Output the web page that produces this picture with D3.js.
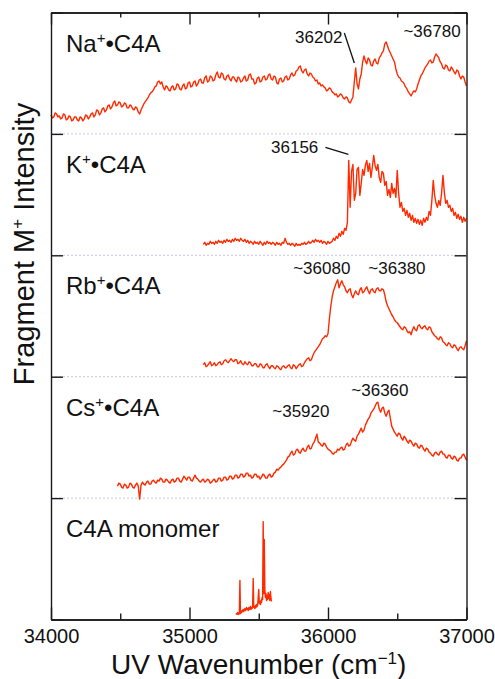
<!DOCTYPE html>
<html>
<head>
<meta charset="utf-8">
<script src="https://cdn.jsdelivr.net/npm/d3@7"></script>
<style>
	body { margin: 0; background: #fff; }
	svg text { font-family: "Liberation Sans", Arial, Helvetica, sans-serif; fill: #111; }
</style>
</head>
<body>
<svg id="chart" width="495" height="679"></svg>
<script>
'use strict';

// panels, top to bottom
var panelIons = ['Na', 'K', 'Rb', 'Cs', null];

// x axis ticks (cm-1)
var majorTicks = [34000, 35000, 36000, 37000];
var minorTicks = [34500, 35500, 36500];

// spectra: first wavenumber, step, intensities (arb. units above panel floor)
var naStart = 34000, naStep = 10;
var naValues = [
	19,16,17,21,20,17,18,15,16,20,
	19,14,15,18,17,13,14,17,17,14,
	13,17,16,13,15,19,18,15,17,20,
	21,17,19,24,23,19,21,25,26,22,
	24,28,29,25,27,31,33,28,29,32,
	31,27,28,31,30,26,26,29,28,25,
	24,27,26,22,20,24,27,30,32,34,
	36,39,41,42,44,47,48,52,53,50,
	52,47,44,48,47,44,43,47,48,44,
	45,50,49,45,44,48,50,45,46,51,
	52,47,48,52,53,48,50,54,55,51,
	51,56,58,52,53,58,57,53,54,59,
	62,57,56,61,60,55,54,58,59,55,
	53,57,57,54,52,57,56,52,53,56,
	58,53,54,59,60,55,55,50,51,56,
	57,52,53,57,58,54,55,59,60,55,
	54,58,57,51,50,55,56,52,53,57,
	58,54,55,59,61,58,59,63,64,67,
	68,63,61,64,65,60,58,61,60,57,
	56,53,54,50,51,48,49,47,46,43,
	44,46,45,42,41,39,40,37,38,40,
	39,36,35,37,36,32,31,34,37,52,
	66,50,45,55,60,72,78,73,70,76,
	74,69,68,73,75,71,70,76,78,81,
	83,90,92,88,84,81,78,75,72,65,
	60,57,56,53,52,50,47,45,42,40,
	38,41,43,42,45,50,54,58,60,63,
	66,68,70,73,74,71,72,77,80,78,
	76,72,70,66,65,69,68,64,63,67,
	65,62,60,64,63,58,55,58,57,52,
	48
];

var kStart = 35100, kStep = 10;
var kValues = [
	11,13,10,12,11,14,12,13,11,14,
	12,15,13,14,12,15,13,16,14,15,
	13,16,14,17,15,16,14,17,15,14,
	16,13,15,12,14,13,11,14,12,13,
	11,14,12,10,13,11,14,12,13,11,
	13,12,10,13,11,12,10,13,12,17,
	13,11,12,10,12,11,9,12,10,11,
	10,12,11,13,11,12,14,12,13,15,
	13,16,14,15,13,15,12,14,13,11,
	14,12,13,14,17,15,19,17,22,19,
	24,21,27,25,33,95,48,84,91,55,
	62,86,88,60,72,86,80,90,95,84,
	92,78,88,100,90,85,91,78,73,84,
	82,70,74,60,66,58,72,62,67,58,
	85,62,48,53,44,47,40,45,38,42,
	35,40,33,37,32,36,31,35,30,37,
	33,38,35,44,40,55,75,60,52,48,
	55,50,62,80,63,52,55,48,50,44,
	47,40,43,37,41,36,39,33,38,34,
	37
];

var rbStart = 35100, rbStep = 10;
var rbValues = [
	12,14,10,11,13,15,11,12,14,11,
	12,14,15,12,13,16,17,15,14,16,
	18,16,15,17,17,13,14,16,13,12,
	15,13,12,15,14,11,11,13,13,10,
	10,13,12,9,9,12,13,10,8,11,
	11,9,8,11,10,8,7,10,11,9,
	9,11,12,9,8,12,11,8,10,12,
	13,10,11,14,16,18,19,16,17,21,
	24,26,28,30,32,35,38,39,41,40,
	43,58,70,80,86,90,94,97,89,93,
	96,92,90,86,84,87,88,82,79,83,
	86,83,82,87,89,84,85,88,90,86,
	83,87,88,85,84,88,89,86,86,88,
	87,82,75,71,68,65,62,60,57,55,
	54,52,50,48,47,50,49,46,44,45,
	42,47,50,47,46,51,52,49,48,50,
	51,48,47,50,49,45,43,41,40,38,
	37,40,39,35,34,32,31,34,33,30,
	29,32,31,28,26,29,30,28,27,31,
	36
];

var csStart = 34480, csStep = 10;
var csValues = [
	12,15,14,11,10,14,13,10,11,15,
	14,11,10,13,15,12,-1,13,16,14,
	13,16,17,14,14,17,18,16,15,18,
	17,20,19,16,16,19,18,16,15,18,
	19,16,17,20,20,17,16,19,22,20,
	18,21,21,18,17,20,23,20,19,17,
	16,18,19,16,17,19,18,15,16,18,
	19,16,17,20,20,17,18,21,21,18,
	19,22,22,19,20,23,23,20,21,24,
	24,21,22,25,25,22,23,20,21,24,
	24,21,22,19,21,24,23,20,20,23,
	24,21,22,25,26,29,28,30,31,33,
	34,36,38,41,42,45,47,43,44,48,
	49,46,45,48,50,47,47,51,53,49,
	50,54,56,60,64,56,55,53,52,55,
	54,51,49,48,47,45,44,46,46,49,
	48,50,51,48,49,53,55,52,53,57,
	60,58,57,62,64,67,70,66,68,73,
	76,79,81,85,87,89,92,95,96,89,
	86,90,91,85,82,86,88,80,72,69,
	66,64,62,65,64,60,58,62,60,57,
	55,58,57,54,52,55,54,51,50,53,
	52,49,47,50,49,46,45,43,42,45,
	46,44,43,46,47,44,44,41,40,43,
	43,40,39,42,41,38,37,40,40,43,
	44,41,38
];

var monoStart = 35336, monoStep = 4;
var monoValues = [
	5,6,5,7,6,5,7,39,6,8,
	7,9,8,10,8,9,11,9,10,12,
	10,11,9,12,10,11,13,10,12,11,
	14,41,12,13,11,14,12,15,13,14,
	22,30,16,18,15,19,17,22,20,98,
	26,80,30,22,26,19,24,20,27,21,
	25,19,28,22,18
];

var spectra = [
	{ panel: 0, start: naStart, step: naStep, values: naValues },
	{ panel: 1, start: kStart, step: kStep, values: kValues },
	{ panel: 2, start: rbStart, step: rbStep, values: rbValues },
	{ panel: 3, start: csStart, step: csStep, values: csValues },
	{ panel: 4, start: monoStart, step: monoStep, values: monoValues }
];

// peak labels: panel, text, wavenumber of anchor, intensity of baseline, anchor
var peakLabels = [
	{ panel: 0, text: '36202', wn: 36104, at: 91, anchor: 'end' },
	{ panel: 0, text: '~36780', wn: 36751, at: 97, anchor: 'middle' },
	{ panel: 1, text: '36156', wn: 35930, at: 102, anchor: 'end' },
	{ panel: 2, text: '~36080', wn: 35955, at: 103, anchor: 'middle' },
	{ panel: 2, text: '~36380', wn: 36498, at: 103, anchor: 'middle' },
	{ panel: 3, text: '~35920', wn: 35804, at: 81, anchor: 'middle' },
	{ panel: 3, text: '~36360', wn: 36375, at: 102, anchor: 'middle' }
];
// leader lines: panel, [wn, intensity] from -> to
var leaders = [
	{ panel: 0, from: [36118, 101], to: [36190, 71] },
	{ panel: 1, from: [35981, 108], to: [36147, 101] }
];

(function() {

	var width = 495, height = 679;
	var margin = { top: 12.5, right: 28.5, bottom: 59.5, left: 51 };
	var panelSpan = 121.5;
	var lineColor = '#ff2a00';
	var axisColor = '#1a1a1a';

	var plotTop = margin.top, plotBottom = height - margin.bottom;
	var plotLeft = margin.left, plotRight = width - margin.right;

	var svg = d3.select('#chart');

	var x = d3.scaleLinear()
		.domain([34000, 37000])
		.range([plotLeft, plotRight]);

	var band = d3.scaleBand()
		.domain(d3.range(panelIons.length))
		.range([plotTop, plotBottom])
		.paddingInner(0).paddingOuter(0);

	var edges = d3.scaleLinear()
		.domain([0, panelIons.length])
		.range([plotTop, plotBottom]);

	function yFor(p) {
		return d3.scaleLinear()
			.domain([0, panelSpan])
			.range([band(p) + band.bandwidth(), band(p)]);
	}

	// dotted separators between panels
	svg.append('g').selectAll('line')
		.data(d3.range(1, panelIons.length))
		.enter().append('line')
		.attr('x1', plotLeft).attr('x2', plotRight)
		.attr('y1', function(d) { return edges(d); })
		.attr('y2', function(d) { return edges(d); })
		.style('stroke', '#c4c4f2')
		.style('stroke-width', 1)
		.style('stroke-dasharray', '2,2');

	// spectra
	var traces = svg.append('g');
	spectra.forEach(function(s) {
		var y = yFor(s.panel);
		var line = d3.line()
			.x(function(d, i) { return x(s.start + i * s.step); })
			.y(function(d) { return y(d); });
		traces.append('path')
			.datum(s.values)
			.attr('d', line)
			.style('fill', 'none')
			.style('stroke', lineColor)
			.style('stroke-width', 1.4)
			.style('stroke-linejoin', 'round');
	});

	// axes
	function styleAxis(g) {
		g.selectAll('path, line').style('stroke', axisColor).style('stroke-width', 1.4);
		g.selectAll('text').style('font-size', '20px').style('fill', '#111')
			.style('font-family', '"Liberation Sans", Arial, sans-serif');
	}
	function bare(g) {
		g.selectAll('text').remove();
	}

	svg.append('g').attr('transform', 'translate(0,' + plotBottom + ')')
		.call(d3.axisBottom(x).tickValues(majorTicks).tickSizeInner(-12).tickSizeOuter(0)
			.tickPadding(9).tickFormat(d3.format('d')))
		.call(styleAxis);
	svg.append('g').attr('transform', 'translate(0,' + plotBottom + ')')
		.call(d3.axisBottom(x).tickValues(minorTicks).tickSizeInner(-6).tickSizeOuter(0))
		.call(bare).call(styleAxis);
	svg.append('g').attr('transform', 'translate(0,' + plotTop + ')')
		.call(d3.axisTop(x).tickValues(majorTicks).tickSizeInner(-12).tickSizeOuter(0))
		.call(bare).call(styleAxis);
	svg.append('g').attr('transform', 'translate(0,' + plotTop + ')')
		.call(d3.axisTop(x).tickValues(minorTicks).tickSizeInner(-5).tickSizeOuter(0))
		.call(bare).call(styleAxis);
	svg.append('g').attr('transform', 'translate(' + plotLeft + ',0)')
		.call(d3.axisLeft(edges).tickValues(d3.range(panelIons.length + 1)).tickSizeInner(-12)
			.tickSizeOuter(0))
		.call(bare).call(styleAxis);
	svg.append('g').attr('transform', 'translate(' + plotRight + ',0)')
		.call(d3.axisRight(edges).tickValues(d3.range(panelIons.length + 1)).tickSizeInner(-12)
			.tickSizeOuter(0))
		.call(bare).call(styleAxis);

	// panel names
	var names = svg.append('g').style('font-size', '24px');
	panelIons.forEach(function(ion, p) {
		var t = names.append('text')
			.attr('x', plotLeft + 15)
			.attr('y', band(p) + 39);
		if (ion) {
			t.append('tspan').text(ion);
			t.append('tspan').attr('font-size', '15px').attr('dy', -9).text('+');
			t.append('tspan').attr('dy', 9).text('\u2022C4A');
		} else {
			t.text('C4A monomer');
		}
	});

	// peak labels and leaders
	peakLabels.forEach(function(d) {
		var y = yFor(d.panel);
		svg.append('text')
			.attr('x', x(d.wn))
			.attr('y', y(d.at))
			.attr('text-anchor', d.anchor)
			.style('font-size', '17px')
			.text(d.text);
	});
	leaders.forEach(function(d) {
		var y = yFor(d.panel);
		svg.append('line')
			.attr('x1', x(d.from[0])).attr('y1', y(d.from[1]))
			.attr('x2', x(d.to[0])).attr('y2', y(d.to[1]))
			.style('stroke', '#111')
			.style('stroke-width', 1.3);
	});

	// axis titles
	var xt = svg.append('text')
		.attr('x', (plotLeft + plotRight) / 2)
		.attr('y', 674)
		.attr('text-anchor', 'middle')
		.style('font-size', '28px');
	xt.append('tspan').text('UV Wavenumber (cm');
	xt.append('tspan').attr('font-size', '17px').attr('dy', -10).text('\u22121');
	xt.append('tspan').attr('dy', 10).text(')');

	var yt = svg.append('text')
		.attr('transform', 'translate(34,244) rotate(-90)')
		.attr('text-anchor', 'middle')
		.style('font-size', '29px');
	yt.append('tspan').text('Fragment M');
	yt.append('tspan').attr('font-size', '17px').attr('dy', -11).text('+');
	yt.append('tspan').attr('dy', 11).text(' Intensity');

})();
</script>
</body>
</html>
